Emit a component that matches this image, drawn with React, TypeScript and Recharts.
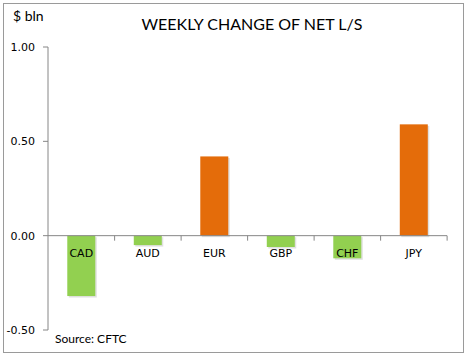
import React from 'react';
import { BarChart, Bar, XAxis, YAxis, ReferenceLine, Cell, LabelList } from 'recharts';

const currencies = ['CAD', 'AUD', 'EUR', 'GBP', 'CHF', 'JPY'];
const weeklyChange = [-0.32, -0.05, 0.42, -0.06, -0.12, 0.59];
const yTicks = [-0.5, 0, 0.5, 1];

const GREEN = '#92D050';
const ORANGE = '#E46C0A';
const AXIS = '#868686';
const GAP = 0.29;

const data = currencies.map((name, i) => ({ name, value: weeklyChange[i] }));

const BarShape: React.FC<any> = ({ x, y, width, height, fill }) => {
    const top = Math.min(y, y + height);
    const h = Math.abs(height);
    return (
        <g>
            <rect x={x + 1.5} y={top + 1.5} width={width} height={h} fill="#000" fillOpacity={0.12} />
            <rect x={x} y={top} width={width} height={h} fill={fill} />
        </g>
    );
};

// category label + tick mark sit on the zero line, not at the bottom of the plot
const ZeroLabel: React.FC<any> = ({ x, y, width, height, value, index }) => {
    const zero = weeklyChange[index] >= 0 ? Math.max(y, y + height) : Math.min(y, y + height);
    const band = width / (1 - 2 * GAP);
    const right = x + width / 2 + band / 2;
    return (
        <g>
            <line x1={right} x2={right} y1={zero} y2={zero + 5} stroke={AXIS} />
            <text x={x + width / 2} y={zero + 21} textAnchor="middle" fontSize={11} fontFamily="'DejaVu Sans', Verdana, sans-serif" fill="#000">
                {value}
            </text>
        </g>
    );
};

const App: React.FC = () => {
    return (
        <div style={{ position: 'fixed', left: 0, top: 0, width: 465, height: 356, background: '#fff' }}>
            <div style={{ position: 'absolute', left: 3, top: 3, width: 459, height: 348, border: '1px solid #9a9a9a' }} />
            <div style={{ position: 'absolute', left: 13, top: 7, fontSize: 14, fontFamily: 'Lato, "Liberation Sans", sans-serif', color: '#000' }}>$ bln</div>
            <div style={{ position: 'absolute', left: 0, width: 504, top: 14, textAlign: 'center', fontSize: 16, fontFamily: 'Lato, "Liberation Sans", sans-serif', color: '#000' }}>
                WEEKLY CHANGE OF NET L/S
            </div>
            <div style={{ position: 'absolute', left: 55, top: 331, fontSize: 12, fontFamily: 'Lato, "Liberation Sans", sans-serif', color: '#000' }}>Source: CFTC</div>
            <div style={{ position: 'absolute', left: 0, top: 0 }}>
                <BarChart
                    width={465}
                    height={356}
                    data={data}
                    margin={{ top: 47, right: 18, left: 8, bottom: 26 }}
                    barCategoryGap={`${GAP * 100}%`}
                >
                    <XAxis dataKey="name" hide />
                    <YAxis
                        width={40}
                        domain={[-0.5, 1]}
                        ticks={yTicks}
                        tickFormatter={(v: number) => v.toFixed(2)}
                        stroke={AXIS}
                        tickSize={5}
                        tickMargin={8}
                        tick={{ fill: '#000', fontSize: 11, fontFamily: "'DejaVu Sans', Verdana, sans-serif" }}
                    />
                    <ReferenceLine y={0} stroke={AXIS} />
                    <Bar dataKey="value" shape={<BarShape />} isAnimationActive={false}>
                        {data.map((d) => (
                            <Cell key={d.name} fill={d.value >= 0 ? ORANGE : GREEN} />
                        ))}
                        <LabelList dataKey="name" content={<ZeroLabel />} />
                    </Bar>
                </BarChart>
            </div>
        </div>
    );
};

export default App;
